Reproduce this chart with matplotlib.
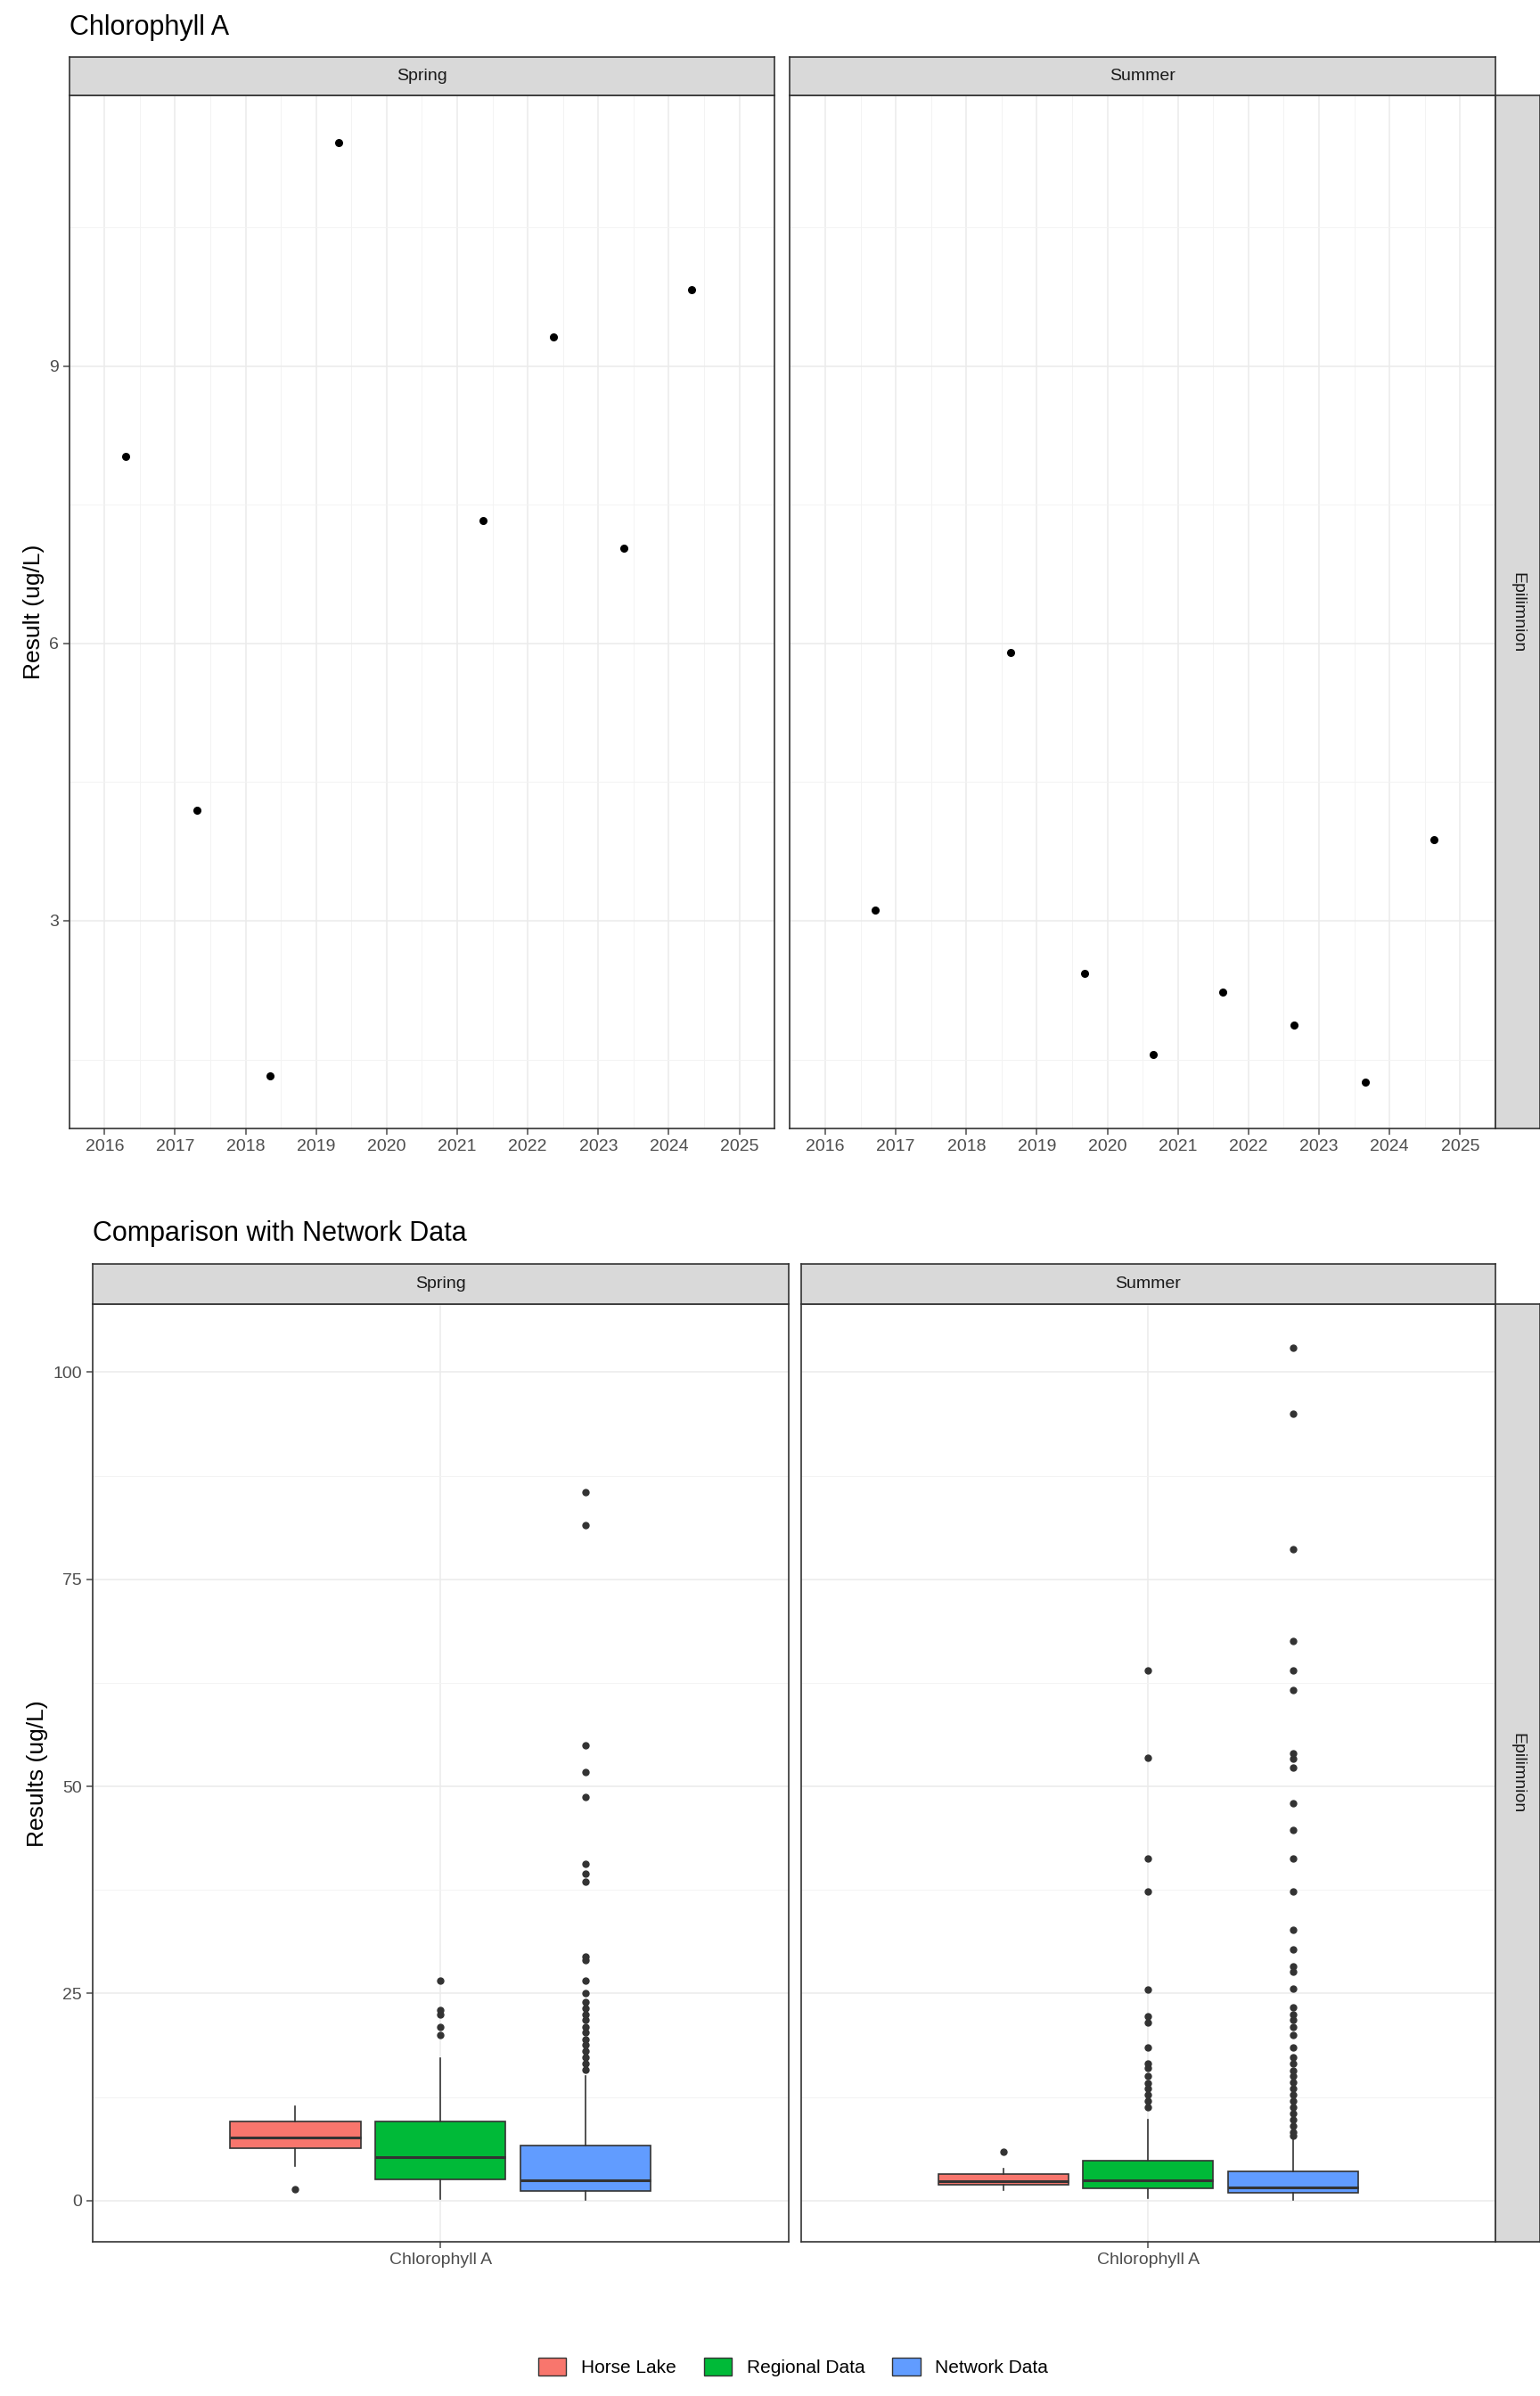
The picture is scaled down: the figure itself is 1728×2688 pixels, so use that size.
import matplotlib
matplotlib.use("Agg")
import matplotlib.pyplot as plt
from matplotlib.patches import Patch
import matplotlib.lines as mlines

plt.rcParams["font.family"] = "Liberation Sans"

spring_years = [2016.3, 2017.31, 2018.34, 2019.32, 2021.37, 2022.36, 2023.36, 2024.32]
spring_vals = [8.02, 4.2, 1.32, 11.42, 7.33, 9.32, 7.03, 9.83]
summer_years = [2016.71, 2018.63, 2019.68, 2020.65, 2021.64, 2022.65, 2023.66, 2024.63]
summer_vals = [3.12, 5.9, 2.43, 1.55, 2.23, 1.87, 1.25, 3.88]

groups = ["Horse Lake", "Regional Data", "Network Data"]
colors = ["#F8766D", "#00BA38", "#619CFF"]
# (whislo, q1, med, q3, whishi, fliers)
spring_box = [
    (4.2, 6.3, 7.6, 9.5, 11.4, [1.35]),
    (0.2, 2.6, 5.2, 9.5, 17.2, [20, 21, 22.5, 23, 26.5]),
    (0.1, 1.2, 2.4, 6.6, 15.0, [85.5, 81.5, 55, 51.7, 48.7, 40.7, 39.5, 38.5, 29.5, 29, 26.5, 25, 24,
                                23.2, 22.5, 21.8, 21, 20.3, 19.5, 18.8, 18, 17.3, 16.5, 15.8]),
]
summer_box = [
    (1.25, 1.9, 2.35, 3.2, 3.9, [5.9]),
    (0.3, 1.5, 2.5, 4.8, 9.8, [64, 53.5, 41.3, 37.3, 25.5, 22.3, 21.5, 18.5, 16.5, 16, 15, 14.2,
                               13.5, 12.8, 12, 11.3]),
    (0.1, 0.9, 1.6, 3.5, 7.5, [103, 95, 78.6, 67.5, 64, 61.6, 54, 53.3, 52.3, 48, 44.7, 41.3, 37.3,
                               32.7, 30.3, 28.3, 27.6, 25.6, 23.3, 22.5, 21.8, 21, 20, 18.5, 17.3,
                               16.5, 15.7, 15, 14.3, 13.5, 12.8, 12, 11.3, 10.5, 9.8, 9, 8.3, 7.8]),
]
seasons = ["Spring", "Summer"]
year_ticks = list(range(2016, 2026))

W, H = 1000, 1556
fig = plt.figure(figsize=(17.28, 26.88), dpi=100)

def ax_at(x0, y0, x1, y1):
    return fig.add_axes([x0 / W, 1 - y1 / H, (x1 - x0) / W, (y1 - y0) / H])

def strip_top(x0, x1, y0, y1, text):
    a = ax_at(x0, y0, x1, y1)
    a.set_facecolor("#D9D9D9")
    a.set_xticks([]); a.set_yticks([])
    for s in a.spines.values():
        s.set_color("#333333"); s.set_linewidth(1.2)
    a.text(0.5, 0.5, text, ha="center", va="center", fontsize=14, color="#1A1A1A", transform=a.transAxes)

def strip_right(x0, x1, y0, y1, text):
    a = ax_at(x0, y0, x1, y1)
    a.set_facecolor("#D9D9D9")
    a.set_xticks([]); a.set_yticks([])
    for s in a.spines.values():
        s.set_color("#333333"); s.set_linewidth(1.2)
    a.text(0.5, 0.5, text, ha="center", va="center", rotation=-90, fontsize=14, color="#1A1A1A",
           transform=a.transAxes)

def style(a):
    for s in a.spines.values():
        s.set_color("#333333"); s.set_linewidth(1.2)
    a.tick_params(labelsize=14, colors="#4D4D4D", length=5, width=1.1)
    a.set_axisbelow(True)
    a.grid(True, which="major", color="#EBEBEB", lw=1.1)
    a.grid(True, which="minor", color="#F3F3F3", lw=0.7)

# top scatter
fig.text(45 / W, 1 - 18 / H, "Chlorophyll A", fontsize=22, va="center", ha="left")
for i, (x0, x1) in enumerate([(45, 503), (513, 971)]):
    a = ax_at(x0, 62, x1, 733)
    xs, ys = (spring_years, spring_vals) if i == 0 else (summer_years, summer_vals)
    a.scatter(xs, ys, s=30, color="black", zorder=3)
    a.set_xlim(2015.57, 2025.43)
    a.set_ylim(0.75, 11.93)
    a.set_xticks(year_ticks)
    a.set_xticks([y + 0.5 for y in range(2015, 2026)], minor=True)
    a.set_yticks([3, 6, 9])
    a.set_yticks([1.5, 4.5, 7.5, 10.5], minor=True)
    a.tick_params(which="minor", length=0)
    style(a)
    if i == 1:
        a.set_yticklabels([])
        a.tick_params(axis="y", length=0)
    else:
        a.set_ylabel("Result (ug/L)", fontsize=19)
    strip_top(x0, x1, 37, 62, seasons[i])
strip_right(971, 1000, 62, 733, "Epilimnion")

# bottom boxplots
fig.text(60 / W, 1 - 801 / H, "Comparison with Network Data", fontsize=22, va="center", ha="left")
for i, (x0, x1) in enumerate([(60, 512), (520, 971)]):
    a = ax_at(x0, 847, x1, 1456)
    data = spring_box if i == 0 else summer_box
    for j, (lo, q1, med, q3, hi, fl) in enumerate(data):
        st = [dict(whislo=lo, q1=q1, med=med, q3=q3, whishi=hi, fliers=fl)]
        a.bxp(st, positions=[1 + (j - 1) * 0.25], widths=0.225, patch_artist=True,
              showcaps=False,
              boxprops=dict(facecolor=colors[j], edgecolor="#333333", lw=1.2),
              medianprops=dict(color="#333333", lw=2.2),
              whiskerprops=dict(color="#333333", lw=1.2),
              flierprops=dict(marker="o", markerfacecolor="#333333", markeredgecolor="#333333",
                              markersize=5))
    a.set_xlim(0.4, 1.6)
    a.set_ylim(-5.0, 108.2)
    a.set_xticks([1]); a.set_xticklabels(["Chlorophyll A"])
    a.set_yticks([0, 25, 50, 75, 100])
    a.set_yticks([12.5, 37.5, 62.5, 87.5], minor=True)
    a.tick_params(which="minor", length=0)
    style(a)
    if i == 1:
        a.set_yticklabels([])
        a.tick_params(axis="y", length=0)
    else:
        a.set_ylabel("Results (ug/L)", fontsize=19)
    strip_top(x0, x1, 821, 847, seasons[i])
strip_right(971, 1000, 847, 1456, "Epilimnion")

handles = [Patch(facecolor=c, edgecolor="#333333", label=g) for c, g in zip(colors, groups)]
fig.legend(handles=handles, loc="center", bbox_to_anchor=(0.515, 1 - 1537 / H), ncol=3,
           frameon=False, fontsize=15, handlelength=1.5, handleheight=1.1, columnspacing=1.5)

fig.savefig("out.png", dpi=100, facecolor="white")
